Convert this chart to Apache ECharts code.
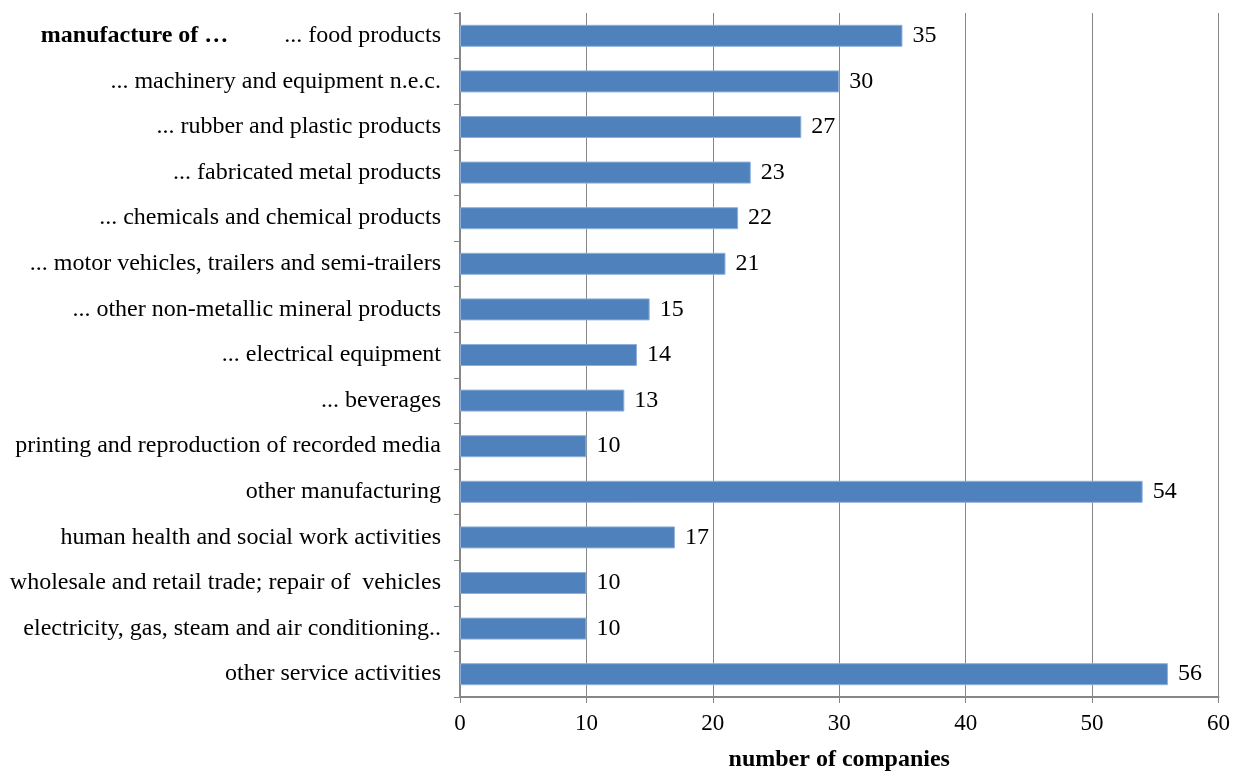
<!DOCTYPE html>
<html>
<head>
<meta charset="utf-8">
<script src="https://cdn.jsdelivr.net/npm/echarts@6/dist/echarts.min.js"></script>
<style>
  html, body { margin: 0; padding: 0; background: #fff; overflow: hidden; }
  #chart { width: 1233px; height: 777px; }
</style>
</head>
<body>
<div id="chart"></div>
<script>
// Companies by economic activity (top to bottom)
const categories = [
  '... food products',
  '... machinery and equipment n.e.c.',
  '... rubber and plastic products',
  '... fabricated metal products',
  '... chemicals and chemical products',
  '... motor vehicles, trailers and semi-trailers',
  '... other non-metallic mineral products',
  '... electrical equipment',
  '... beverages',
  'printing and reproduction of recorded media',
  'other manufacturing',
  'human health and social work activities',
  'wholesale and retail trade; repair of  vehicles',
  'electricity, gas, steam and air conditioning..',
  'other service activities'
];
const companies = [35, 30, 27, 23, 22, 21, 15, 14, 13, 10, 54, 17, 10, 10, 56];
const groupHeading = 'manufacture of …';
const axisTitle = 'number of companies';
const xTicks = { min: 0, max: 60, interval: 10 };

const FONT = '"Liberation Serif", "Times New Roman", serif';
const GREY = '#868686';

const chart = echarts.init(document.getElementById('chart'), null, { renderer: 'canvas' });
chart.setOption({
  backgroundColor: '#ffffff',
  animation: false,
  textStyle: { fontFamily: FONT },
  grid: { left: 460, width: 759, top: 13, height: 692, containLabel: false },
  xAxis: {
    type: 'value',
    min: xTicks.min, max: xTicks.max, interval: xTicks.interval,
    name: axisTitle,
    nameLocation: 'middle',
    nameGap: 51,
    nameTextStyle: { fontFamily: FONT, fontSize: 24, fontWeight: 'bold', color: '#000' },
    axisLine: { show: true, lineStyle: { color: GREY, width: 2 } },
    axisTick: { show: true, length: 6, lineStyle: { color: GREY } },
    axisLabel: { fontFamily: FONT, fontSize: 23, color: '#000', margin: 15 },
    splitLine: { show: true, lineStyle: { color: GREY, width: 1 } }
  },
  yAxis: {
    type: 'category',
    data: categories,
    inverse: true,
    axisLine: { show: true, lineStyle: { color: GREY, width: 2 } },
    axisTick: { show: true, length: 6, alignWithLabel: false, lineStyle: { color: GREY } },
    axisLabel: {
      fontFamily: FONT, fontSize: 24, color: '#000', margin: 19,
      formatter: function (v, i) {
        return i === 0 ? '{h|' + groupHeading + '}{g|}' + v : v;
      },
      rich: {
        h: { fontFamily: FONT, fontSize: 24, fontWeight: 'bold', color: '#000' },
        g: { width: 56 }
      }
    },
    splitLine: { show: false }
  },
  series: [{
    type: 'bar',
    data: companies,
    barWidth: 22,
    itemStyle: { color: '#4F81BD', borderColor: '#8DB0DA', borderWidth: 1 },
    label: {
      show: true, position: 'right', distance: 10,
      fontFamily: FONT, fontSize: 24, color: '#000'
    }
  }]
});
</script>
</body>
</html>
